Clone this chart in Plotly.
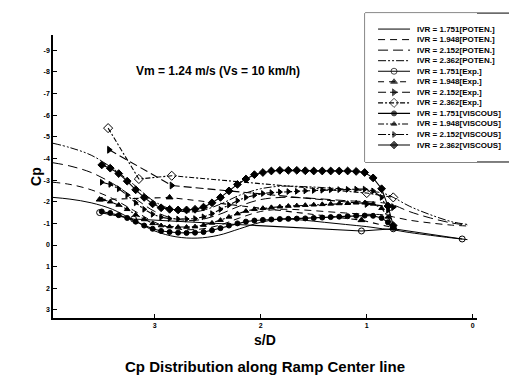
import plotly.graph_objects as go

# ---------------- data ----------------
x_pot = [3.96, 3.8, 3.6, 3.4, 3.2, 3.0, 2.8, 2.6, 2.4, 2.2, 2.0, 1.8, 1.6, 1.4, 1.2, 1.0, 0.85, 0.75, 0.6, 0.4, 0.2, 0.05]
pot_1751 = [-2.20, -2.12, -1.95, -1.65, -1.15, -0.65, -0.38, -0.32, -0.45, -0.75, -1.05, -1.20, -1.15, -1.05, -0.95, -0.85, -0.75, -0.70, -0.58, -0.45, -0.33, -0.25]
pot_1948 = [-2.90, -2.80, -2.55, -2.15, -1.60, -1.05, -0.75, -0.72, -0.90, -1.25, -1.55, -1.65, -1.62, -1.55, -1.48, -1.42, -1.40, -1.30, -1.15, -1.02, -0.92, -0.88]
pot_2152 = [-3.80, -3.65, -3.35, -2.85, -2.20, -1.55, -1.20, -1.15, -1.40, -1.80, -2.10, -2.20, -2.18, -2.12, -2.05, -2.00, -1.95, -1.85, -1.55, -1.25, -1.02, -0.92]
pot_2362 = [-4.70, -4.50, -4.15, -3.55, -2.80, -2.00, -1.60, -1.55, -1.85, -2.30, -2.60, -2.72, -2.70, -2.65, -2.58, -2.50, -2.40, -2.20, -1.80, -1.40, -1.08, -0.95]

exp_1751_x = [3.52, 3.20, 1.05, 0.75, 0.10]
exp_1751 = [-1.50, -1.20, -0.65, -0.75, -0.28]
exp_1948_x = [3.52, 2.86, 1.05, 0.75]
exp_1948 = [-2.10, -2.20, -1.15, -0.80]
exp_2152_x = [3.43, 2.84, 1.00, 0.75]
exp_2152 = [-4.40, -2.75, -1.90, -1.75]
exp_2362_x = [3.44, 3.15, 2.84, 1.00, 0.75]
exp_2362 = [-5.40, -3.05, -3.20, -2.40, -2.20]

x_visc = [3.50, 3.42, 3.34, 3.26, 3.18, 3.10, 3.02, 2.94, 2.86, 2.78, 2.70, 2.62, 2.54, 2.46, 2.38, 2.30, 2.22, 2.14,
          2.06, 1.98, 1.90, 1.82, 1.74, 1.66, 1.58, 1.50, 1.42, 1.34, 1.26, 1.18, 1.10, 1.02, 0.94, 0.86, 0.80, 0.75]
visc_1751 = [-1.55, -1.48, -1.38, -1.25, -1.08, -0.90, -0.75, -0.65, -0.60, -0.57, -0.56, -0.57, -0.60, -0.68, -0.78, -0.90, -1.00, -1.08,
             -1.13, -1.16, -1.18, -1.20, -1.21, -1.22, -1.23, -1.25, -1.27, -1.29, -1.31, -1.33, -1.35, -1.36, -1.35, -1.25, -1.05, -0.80]
visc_1948 = [-2.10, -2.00, -1.85, -1.65, -1.40, -1.18, -1.00, -0.90, -0.85, -0.83, -0.83, -0.85, -0.92, -1.02, -1.15, -1.30, -1.45, -1.57,
             -1.65, -1.70, -1.74, -1.77, -1.80, -1.82, -1.84, -1.86, -1.88, -1.90, -1.92, -1.93, -1.95, -1.95, -1.90, -1.70, -1.30, -0.85]
visc_2152 = [-2.90, -2.80, -2.60, -2.30, -1.95, -1.65, -1.42, -1.28, -1.22, -1.20, -1.20, -1.22, -1.30, -1.45, -1.65, -1.85, -2.05, -2.20,
             -2.30, -2.38, -2.42, -2.45, -2.47, -2.48, -2.50, -2.52, -2.53, -2.55, -2.56, -2.57, -2.58, -2.58, -2.50, -2.20, -1.60, -0.90]
visc_2362 = [-3.70, -3.55, -3.30, -2.95, -2.55, -2.20, -1.90, -1.72, -1.65, -1.62, -1.62, -1.65, -1.75, -1.95, -2.20, -2.50, -2.80, -3.05,
             -3.25, -3.35, -3.42, -3.45, -3.45, -3.45, -3.43, -3.42, -3.42, -3.42, -3.42, -3.42, -3.40, -3.35, -3.10, -2.60, -1.80, -0.90]

y_ticks = [-9, -8, -7, -6, -5, -4, -3, -2, -1, 0, 1, 2, 3]
y_tick_text = ["-9", "-8", "-7", "-6", "-5", "-4", "-3", "-2", "-1", "0", "1", "2", "3"]
x_ticks = [3, 2, 1, 0]
x_tick_text = ["3", "2", "1", "0"]

FONT = "Arial, Liberation Sans, sans-serif"
BLK = "black"
LONGDASH2 = "10px,5px"
DASHDOTDOT = "8px,2px,2px,2px,2px,2px"

series = [
    dict(name="IVR = 1.751[POTEN.]", x=x_pot, y=pot_1751, dash="solid", sym=None),
    dict(name="IVR = 1.948[POTEN.]", x=x_pot, y=pot_1948, dash="7px,5px", sym=None),
    dict(name="IVR = 2.152[POTEN.]", x=x_pot, y=pot_2152, dash=LONGDASH2, sym=None),
    dict(name="IVR = 2.362[POTEN.]", x=x_pot, y=pot_2362, dash=DASHDOTDOT, sym=None),
    dict(name="IVR = 1.751[Exp.]", x=exp_1751_x, y=exp_1751, dash="solid", sym="circle-open", size=6),
    dict(name="IVR = 1.948[Exp.]", x=exp_1948_x, y=exp_1948, dash="6px,5px", sym="triangle-up", size=6),
    dict(name="IVR = 2.152[Exp.]", x=exp_2152_x, y=exp_2152, dash="8px,4px", sym="triangle-right", size=6),
    dict(name="IVR = 2.362[Exp.]", x=exp_2362_x, y=exp_2362, dash="5px,2px,2px,2px", sym="diamond-open", size=7),
    dict(name="IVR = 1.751[VISCOUS]", x=x_visc, y=visc_1751, dash="solid", sym="circle", size=5),
    dict(name="IVR = 1.948[VISCOUS]", x=x_visc, y=visc_1948, dash="6px,2px,2px,2px", sym="triangle-up", size=5),
    dict(name="IVR = 2.152[VISCOUS]", x=x_visc, y=visc_2152, dash=DASHDOTDOT, sym="triangle-right", size=5),
    dict(name="IVR = 2.362[VISCOUS]", x=x_visc, y=visc_2362, dash="solid", sym="diamond", size=6),
]

fig = go.Figure()

for s in series:
    if s["sym"] is None:
        fig.add_trace(go.Scatter(x=s["x"], y=s["y"], mode="lines", showlegend=False,
                                 line=dict(color=BLK, width=1, dash=s["dash"], shape="spline")))
    else:
        fig.add_trace(go.Scatter(x=s["x"], y=s["y"], mode="lines+markers", showlegend=False,
                                 line=dict(color=BLK, width=1.1, dash=s["dash"]),
                                 marker=dict(symbol=s["sym"], size=s["size"], color=BLK,
                                             line=dict(color=BLK, width=1))))

# ---------------- custom compact legend (helper axes) ----------------
leg_x0, leg_x1, leg_xm = 378, 410, 394
for i, s in enumerate(series):
    if s["sym"] is None:
        fig.add_trace(go.Scatter(x=[leg_x0, leg_x1], y=[i, i], mode="lines", xaxis="x2", yaxis="y2",
                                 showlegend=False, hoverinfo="skip",
                                 line=dict(color=BLK, width=1, dash=s["dash"])))
    else:
        fig.add_trace(go.Scatter(x=[leg_x0, leg_xm, leg_x1], y=[i, i, i], mode="lines+markers",
                                 xaxis="x2", yaxis="y2", showlegend=False, hoverinfo="skip",
                                 line=dict(color=BLK, width=1.1, dash=s["dash"]),
                                 marker=dict(symbol=s["sym"], size=[0, s["size"], 0], color=BLK,
                                             line=dict(color=BLK, width=1))))
    fig.add_annotation(x=415, y=i, xref="x2", yref="y2", text=s["name"], showarrow=False,
                       xanchor="left", yanchor="middle",
                       font=dict(family=FONT, size=8, color=BLK, weight="bold"))

fig.add_shape(type="rect", xref="paper", yref="paper", x0=0.736, x1=1.2, y0=0.5065, y1=0.99,
              line=dict(color=BLK, width=1), fillcolor="white", layer="below")

fig.update_layout(
    width=509, height=374,
    margin=dict(l=45, r=40, t=2, b=64),
    paper_bgcolor="white", plot_bgcolor="white",
    showlegend=False,
    font=dict(family=FONT, color=BLK),
    xaxis=dict(range=[3.96, -0.04], tickvals=x_ticks, ticktext=x_tick_text, ticks="inside", ticklen=4,
               tickcolor=BLK, showline=True, linecolor=BLK, linewidth=1.5, showgrid=False, zeroline=False,
               tickfont=dict(family=FONT, size=7, color=BLK, weight="bold"), anchor="y"),
    yaxis=dict(range=[3.37, -9.7], domain=[0, 0.9188], tickvals=y_ticks, ticktext=y_tick_text,
               ticks="inside", ticklen=4, tickcolor=BLK, showline=True, linecolor=BLK, linewidth=1.5,
               showgrid=False, zeroline=False,
               tickfont=dict(family=FONT, size=7, color=BLK, weight="bold"), anchor="x"),
    xaxis2=dict(domain=[0.736, 1.0], range=[365, 477], visible=False, anchor="y2"),
    yaxis2=dict(domain=[0.5065, 0.99], range=[12.61, -1.517], visible=False, anchor="x2"),
)

fig.add_annotation(x=0.389, y=0.831, xref="paper", yref="paper", text="Vm = 1.24 m/s (Vs = 10 km/h)",
                   showarrow=False, font=dict(family=FONT, size=12, color=BLK, weight="bold"))
fig.add_annotation(x=-0.064, y=0.461, xref="paper", yref="paper", text="Cp", textangle=-90,
                   showarrow=False, font=dict(family=FONT, size=14, color=BLK, weight="bold"))
fig.add_annotation(x=0.5, y=-0.0714, xref="paper", yref="paper", text="s/D", showarrow=False,
                   yanchor="middle", font=dict(family=FONT, size=14, color=BLK, weight="bold"))
fig.add_annotation(x=0.5, y=-0.159, xref="paper", yref="paper", text="Cp Distribution along Ramp Center line",
                   showarrow=False, yanchor="middle", font=dict(family=FONT, size=15, color=BLK, weight="bold"))

fig.write_html("out.html")
